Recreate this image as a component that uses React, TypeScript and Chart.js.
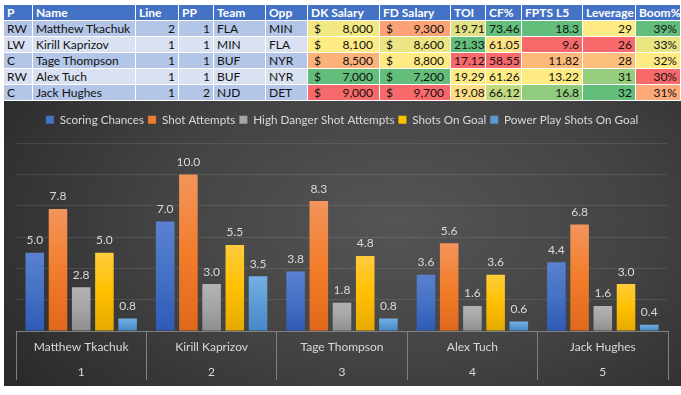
import React, { useEffect, useRef } from 'react';
import { Chart, registerables } from 'chart.js';

Chart.register(...registerables);

// ---------- table data ----------
const headers = ['P', 'Name', 'Line', 'PP', 'Team', 'Opp', 'DK Salary', 'FD Salary', 'TOI', 'CF%', 'FPTS L5', 'Leverage', 'Boom%'];
const positions = ['RW', 'LW', 'C', 'RW', 'C'];
const players = ['Matthew Tkachuk', 'Kirill Kaprizov', 'Tage Thompson', 'Alex Tuch', 'Jack Hughes'];
const lineNums = [2, 1, 1, 1, 1];
const ppUnits = [1, 1, 1, 1, 2];
const teams = ['FLA', 'MIN', 'BUF', 'BUF', 'NJD'];
const opponents = ['MIN', 'FLA', 'NYR', 'NYR', 'DET'];
const dkSalary = [8000, 8100, 8500, 7000, 9000];
const fdSalary = [9300, 8600, 8800, 7200, 9700];
const toi = ['19.71', '21.33', '17.12', '19.29', '19.08'];
const cfPct = ['73.46', '61.05', '58.55', '61.26', '66.12'];
const fptsL5 = ['18.3', '9.6', '11.82', '13.22', '16.8'];
const leverage = [29, 26, 28, 31, 32];
const boomPct = [39, 33, 32, 30, 31];

// ---------- chart data ----------
const ranks = ['1', '2', '3', '4', '5'];
const seriesNames = ['Scoring Chances', 'Shot Attempts', 'High Danger Shot Attempts', 'Shots On Goal', 'Power Play Shots On Goal'];
const scoringChances = [5.0, 7.0, 3.8, 3.6, 4.4];
const shotAttempts = [7.8, 10.0, 8.3, 5.6, 6.8];
const highDangerShotAttempts = [2.8, 3.0, 1.8, 1.6, 1.6];
const shotsOnGoal = [5.0, 5.5, 4.8, 3.6, 3.0];
const ppShotsOnGoal = [0.8, 3.5, 0.8, 0.6, 0.4];

const FONT = 'Lato, "Open Sans", sans-serif';

// Excel 3-colour scale
const RED = [248, 105, 107];
const YEL = [255, 235, 132];
const GRN = [99, 190, 123];
function lerp(a: number[], b: number[], t: number) {
  const c = a.map((v, i) => Math.round(v + (b[i] - v) * t));
  return `rgb(${c[0]},${c[1]},${c[2]})`;
}
function scaleColors(vals: number[], highGood: boolean): string[] {
  const s = [...vals].sort((a, b) => a - b);
  const min = s[0];
  const max = s[s.length - 1];
  const mid = s[Math.floor(s.length / 2)];
  const lo = highGood ? RED : GRN;
  const hi = highGood ? GRN : RED;
  return vals.map((v) => {
    if (v <= mid) return lerp(lo, YEL, mid === min ? 1 : (v - min) / (mid - min));
    return lerp(YEL, hi, (v - mid) / (max - mid));
  });
}

const colWidths = [29, 103, 43, 35, 52, 42, 72, 71, 35, 36, 61, 53, 45];

type CellSpec = { text?: string; align?: 'left' | 'right'; bg?: string; acct?: number };

function Table() {
  const dkC = scaleColors(dkSalary, false);
  const fdC = scaleColors(fdSalary, false);
  const toiC = scaleColors(toi.map(Number), true);
  const cfC = scaleColors(cfPct.map(Number), true);
  const fpC = scaleColors(fptsL5.map(Number), true);
  const lvC = scaleColors(leverage, true);
  const bmC = scaleColors(boomPct, true);

  const baseCell: React.CSSProperties = {
    boxSizing: 'border-box',
    height: 16,
    borderRight: '1px solid #fff',
    borderBottom: '1px solid #fff',
    padding: '0 3px',
    lineHeight: '15px',
    fontFamily: FONT,
    fontSize: 12,
    whiteSpace: 'nowrap',
    overflow: 'hidden',
    color: '#111',
  };

  const rows: CellSpec[][] = players.map((p, i) => [
    { text: positions[i] },
    { text: p },
    { text: String(lineNums[i]), align: 'right' },
    { text: String(ppUnits[i]), align: 'right' },
    { text: teams[i] },
    { text: opponents[i] },
    { acct: dkSalary[i], bg: dkC[i] },
    { acct: fdSalary[i], bg: fdC[i] },
    { text: toi[i], align: 'right', bg: toiC[i] },
    { text: cfPct[i], align: 'right', bg: cfC[i] },
    { text: fptsL5[i], align: 'right', bg: fpC[i] },
    { text: String(leverage[i]), align: 'right', bg: lvC[i] },
    { text: `${boomPct[i]}%`, align: 'right', bg: bmC[i] },
  ]);

  return (
    <div style={{ position: 'absolute', left: 4, top: 5 }}>
      <div style={{ display: 'flex' }}>
        {headers.map((h, j) => (
          <div
            key={h}
            style={{ ...baseCell, width: colWidths[j], background: '#4472C4', color: '#fff', fontWeight: 700 }}
          >
            {h}
          </div>
        ))}
      </div>
      {rows.map((r, i) => (
        <div key={i} style={{ display: 'flex' }}>
          {r.map((c, j) => {
            const bg = c.bg || (i % 2 === 0 ? '#B4C6E7' : '#D9E1F2');
            if (c.acct !== undefined) {
              return (
                <div
                  key={j}
                  style={{
                    ...baseCell,
                    width: colWidths[j],
                    background: bg,
                    padding: '0 6px',
                    display: 'flex',
                    justifyContent: 'space-between',
                  }}
                >
                  <span>$</span>
                  <span>{c.acct.toLocaleString('en-US')}</span>
                </div>
              );
            }
            return (
              <div
                key={j}
                style={{ ...baseCell, width: colWidths[j], background: bg, textAlign: c.align || 'left' }}
              >
                {c.text}
              </div>
            );
          })}
        </div>
      ))}
    </div>
  );
}

const seriesBase = ['#4472C4', '#ED7D31', '#A5A5A5', '#FFC000', '#5B9BD5'];
const seriesStops = [
  ['#5a80d1', '#4472c4', '#2e5ab5'],
  ['#f3955c', '#f27d2b', '#e0681b'],
  ['#b3b3b3', '#a5a5a5', '#8e8e8e'],
  ['#ffcc3d', '#ffc000', '#e5aa00'],
  ['#75b0e4', '#5b9bd5', '#4688c9'],
];

function makeFill(i: number) {
  return (c: any) => {
    const base = seriesBase[i];
    if (c.type !== 'data') return base;
    const chart = c.chart;
    const y = chart.scales && chart.scales.y;
    if (!y) return base;
    const top = y.getPixelForValue(c.raw);
    const bot = y.getPixelForValue(0);
    if (!isFinite(top) || !isFinite(bot) || top === bot) return base;
    const g = chart.ctx.createLinearGradient(0, top, 0, bot);
    const st = seriesStops[i];
    g.addColorStop(0, st[0]);
    g.addColorStop(0.5, st[1]);
    g.addColorStop(1, st[2]);
    return g;
  };
}

const valueLabels = {
  id: 'valueLabels',
  afterDatasetsDraw(chart: any) {
    const ctx = chart.ctx;
    ctx.save();
    ctx.font = `12px ${FONT}`;
    ctx.fillStyle = '#d9d9d9';
    ctx.textAlign = 'center';
    ctx.textBaseline = 'alphabetic';
    chart.data.datasets.forEach((ds: any, i: number) => {
      const meta = chart.getDatasetMeta(i);
      meta.data.forEach((el: any, j: number) => {
        ctx.fillText(Number(ds.data[j]).toFixed(1), el.x, el.y - 8.5);
      });
    });
    ctx.restore();
  },
};

function BarChart() {
  const ref = useRef<HTMLCanvasElement>(null);
  useEffect(() => {
    if (!ref.current) return;
    const seriesValues = [scoringChances, shotAttempts, highDangerShotAttempts, shotsOnGoal, ppShotsOnGoal];
    const chart = new Chart(ref.current, {
      type: 'bar',
      data: {
        labels: players.map((p, i) => [p, ranks[i]]),
        datasets: seriesNames.map((name, i) => ({
          label: name,
          data: seriesValues[i],
          backgroundColor: makeFill(i),
          borderWidth: 0,
          categoryPercentage: 0.89,
          barPercentage: 0.8,
        })),
      },
      options: {
        animation: false,
        responsive: false,
        layout: { padding: { left: 12, right: 13, top: 9, bottom: 0 } },
        plugins: {
          legend: {
            position: 'top',
            labels: {
              boxWidth: 8,
              boxHeight: 8,
              padding: 4,
              color: '#d9d9d9',
              font: { family: FONT, size: 11.7 },
              generateLabels: (ch: any) =>
                ch.data.datasets.map((ds: any, i: number) => ({
                  text: ds.label,
                  fillStyle: seriesBase[i],
                  strokeStyle: seriesBase[i],
                  lineWidth: 0,
                  hidden: false,
                  datasetIndex: i,
                  fontColor: '#d9d9d9',
                })),
            },
          },
          title: {
            display: true,
            text: '',
            weight: 500,
            padding: 0,
            font: { size: 7.5, lineHeight: 1 },
          } as any,
          tooltip: { enabled: false },
        },
        scales: {
          x: {
            grid: {
              display: true,
              offset: true,
              drawOnChartArea: false,
              drawTicks: true,
              tickLength: 49,
              color: '#808080',
            },
            border: { display: true, color: '#808080' },
            ticks: {
              color: '#d9d9d9',
              font: { family: FONT, size: 12, lineHeight: 25 / 12 },
              padding: -45.5,
              maxRotation: 0,
              autoSkip: false,
            },
            afterFit: (s: any) => {
              s.height = 55;
            },
          },
          y: {
            min: 0,
            max: 12,
            ticks: { display: false, stepSize: 2 },
            grid: { color: 'rgba(255,255,255,0.1)', drawTicks: false },
            border: { display: false },
          },
        },
      },
      plugins: [valueLabels],
    } as any);
    return () => chart.destroy();
  }, []);

  return (
    <div
      style={{
        position: 'absolute',
        left: 4,
        top: 101,
        width: 677,
        height: 285,
        background:
          'radial-gradient(ellipse 72% 100% at 58% 42%, #555555 0%, #434343 50%, #282828 100%)',
      }}
    >
      <canvas ref={ref} width={677} height={285} style={{ display: 'block' }} />
    </div>
  );
}

export default function App() {
  return (
    <div style={{ position: 'absolute', left: 0, top: 0, width: 681, height: 395, background: '#fff', overflow: 'hidden' }}>
      <Table />
      <BarChart />
    </div>
  );
}
